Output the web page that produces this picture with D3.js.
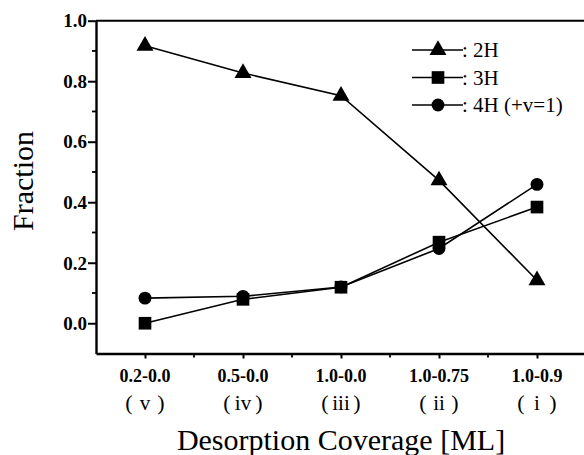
<!DOCTYPE html>
<html>
<head>
<meta charset="utf-8">
<script src="https://cdn.jsdelivr.net/npm/d3@7"></script>
<style>
  body { margin: 0; background: #fff; }
  svg { display: block; font-family: "Liberation Serif", "Times New Roman", serif; }
</style>
</head>
<body>
<svg id="chart" width="584" height="455"></svg>
<script>
//Data
const categories = ["0.2-0.0", "0.5-0.0", "1.0-0.0", "1.0-0.75", "1.0-0.9"];
const romans = ["v", "iv", "iii", "ii", "i"];
const frac2H = [0.917, 0.827, 0.752, 0.472, 0.142];
const frac3H = [0.0, 0.079, 0.119, 0.268, 0.384];
const frac4H = [0.083, 0.089, 0.12, 0.247, 0.459];
const seriesNames = [": 2H", ": 3H", ": 4H (+v=1)"];
const yTicks = [0.0, 0.2, 0.4, 0.6, 0.8, 1.0];

//Layout
const plotLeft = 96, plotRight = 586, plotTop = 20.7, plotBottom = 353.5;
const svg = d3.select("#chart");

const x = d3.scaleLinear().domain([-0.5, categories.length - 0.5]).range([plotLeft, plotRight]);
const y = d3.scaleLinear().domain([-0.1, 1.0]).range([plotBottom, plotTop]);

//Frame top line
svg.append("line").attr("x1", plotLeft).attr("x2", plotRight).attr("y1", plotTop).attr("y2", plotTop)
  .attr("stroke", "#000").attr("stroke-width", 2);

//Y axis
const yAxis = svg.append("g").attr("transform", `translate(${plotLeft},0)`)
  .call(d3.axisLeft(y).tickValues(yTicks).tickFormat(d3.format(".1f")).tickSize(8).tickSizeOuter(0));
yAxis.select(".domain").attr("stroke-width", 2.4);
yAxis.selectAll(".tick line").attr("stroke-width", 2);
yAxis.selectAll(".tick text").attr("font-size", 19).attr("font-weight", "bold")
  .attr("font-family", "Liberation Serif").attr("x", -9).attr("dy", "0.33em");
//minor y ticks
svg.append("g").selectAll("line")
  .data([0.1, 0.3, 0.5, 0.7, 0.9])
  .join("line")
  .attr("x1", plotLeft - 4).attr("x2", plotLeft).attr("y1", d => y(d)).attr("y2", d => y(d))
  .attr("stroke", "#000").attr("stroke-width", 1.8);

//X axis
const xAxis = svg.append("g").attr("transform", `translate(0,${plotBottom})`)
  .call(d3.axisBottom(x).tickValues(d3.range(categories.length)).tickFormat("").tickSize(5).tickSizeOuter(0));
xAxis.select(".domain").attr("stroke-width", 2.4);
xAxis.selectAll(".tick line").attr("stroke-width", 2);
svg.append("g").selectAll("line")
  .data(d3.range(categories.length).map(i => i + 0.5))
  .join("line")
  .attr("x1", d => x(d)).attr("x2", d => x(d)).attr("y1", plotBottom).attr("y2", plotBottom + 4)
  .attr("stroke", "#000").attr("stroke-width", 1.8);

//Category labels
svg.append("g").selectAll("text").data(categories).join("text")
  .attr("x", (d, i) => x(i)).attr("y", 382)
  .attr("text-anchor", "middle").attr("font-size", 18).attr("font-weight", "bold")
  .text(d => d);
//Roman numerals in wide parentheses
const romanG = svg.append("g").selectAll("g").data(romans).join("g")
  .attr("transform", (d, i) => `translate(${x(i)},410)`)
  .attr("text-anchor", "middle");
romanG.append("text").attr("x", -16).attr("font-size", 22).attr("font-weight", 300).text("(");
romanG.append("text").attr("x", 16).attr("font-size", 22).attr("font-weight", 300).text(")");
romanG.append("text").attr("font-size", 21).text(d => d)
  .each(function() {
    const w = this.getComputedTextLength();
    if (w > 18) d3.select(this).attr("textLength", 18).attr("lengthAdjust", "spacingAndGlyphs");
  });

//Axis titles
svg.append("text").attr("transform", "translate(33,181) rotate(-90)")
  .attr("text-anchor", "middle").attr("font-size", 30).text("Fraction");
svg.append("text").attr("x", x(2)).attr("y", 450)
  .attr("text-anchor", "middle").attr("font-size", 30).text("Desorption Coverage  [ML]");

//Series
const series = [
  {values: frac2H, shape: d3.symbolTriangle, size: 125},
  {values: frac3H, shape: d3.symbolSquare, size: 160},
  {values: frac4H, shape: d3.symbolCircle, size: 130}
];
const line = d3.line().x((d, i) => x(i)).y(d => y(d));
series.forEach(s => {
  svg.append("path").datum(s.values).attr("d", line)
    .attr("fill", "none").attr("stroke", "#000").attr("stroke-width", 1.6);
});
series.forEach(s => {
  svg.append("g").selectAll("path").data(s.values).join("path")
    .attr("transform", (d, i) => `translate(${x(i)},${y(d)})`)
    .attr("d", d3.symbol().type(s.shape).size(s.size)).attr("fill", "#000");
});

//Legend
const legend = svg.append("g").attr("transform", "translate(412,50)");
series.forEach((s, i) => {
  const g = legend.append("g").attr("transform", `translate(0,${i * 27.5})`);
  g.append("line").attr("x1", 0).attr("x2", 51).attr("stroke", "#000").attr("stroke-width", 1.6);
  g.append("path").attr("transform", "translate(26,0)")
    .attr("d", d3.symbol().type(s.shape).size(s.size)).attr("fill", "#000");
  g.append("text").attr("x", 50).attr("y", 7).attr("font-size", 21).text(seriesNames[i]);
});
</script>
</body>
</html>
